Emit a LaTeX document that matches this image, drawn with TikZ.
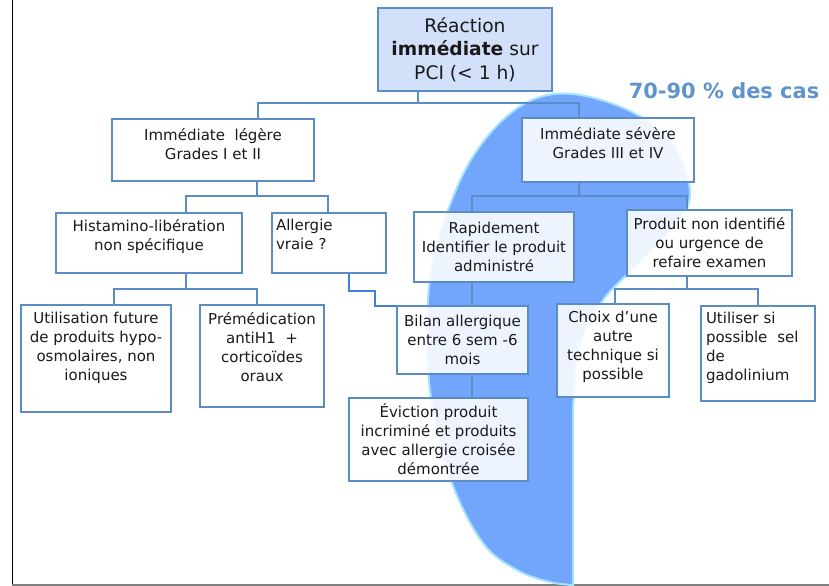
\documentclass[tikz,border=0pt]{standalone}
\usepackage{fontspec}
\setmainfont{DejaVu Sans}
\usepackage{xcolor}
\usepackage{tikz}

\definecolor{boxblue}{HTML}{5B8CC6}
\definecolor{topfill}{HTML}{D3E0F9}
\definecolor{blobfill}{HTML}{72A6FC}
\definecolor{blobedge}{HTML}{A4E2FF}
\definecolor{linkblue}{HTML}{3F7FDD}
\definecolor{casblue}{HTML}{5E93CC}
\definecolor{textgray}{HTML}{1A1A1A}

\newlength{\pxu}\setlength{\pxu}{0.75pt}
\newcommand{\lift}[1]{\rule[-#1\pxu]{0pt}{0pt}}

\begin{document}
\begin{tikzpicture}[x=0.75pt, y=-0.75pt,
  box/.style={draw=boxblue, line width=1.9pt, fill=white, fill opacity=.88, text opacity=1,
    align=center, inner sep=0pt, text=textgray, font=\fontsize{11.25}{14.25}\selectfont},
  sz/.style 2 args={minimum width=#1*0.75pt, minimum height=#2*0.75pt},
  link/.style={draw=boxblue, line width=1.9pt},
  allink/.style={draw=linkblue, line width=1.1pt}]
  \useasboundingbox (0,0) rectangle (829,586);

  % cadre
  \draw[black, line width=1.1pt] (12.5,0) -- (12.5,586);
  \draw[gray, line width=1.1pt] (12,585) -- (829,585);

  % zone 70-90 %
  \filldraw[fill=blobfill, draw=blobedge, line width=1.5pt] (573,585) -- (573,410)
    -- plot[smooth, tension=0.6] coordinates {(573,410) (580,345) (603,300) (640,262) (676,224)
      (690,192) (672,142) (632,112) (580,95) (540,97) (505,118) (472,158) (448,210) (432,265)
      (427,330) (432,405) (452,483) (483,543) (517,570) (550,582) (573,585)} -- cycle;
  \node[font=\fontsize{15.7}{19}\selectfont\bfseries, text=casblue] (cas) at (724,91) {70-90 \% des cas};

  % Réaction
  \node[box, sz={174}{83}, fill=topfill, fill opacity=1, font=\fontsize{14}{17.6}\selectfont] (reac) at (465,49.5)
    {Réaction\\\textbf{immédiate} sur\\PCI (< 1 h)};

  % Branche légère
  \node[box, sz={202}{62}] (legere) at (213,150) {Immédiate\ \ légère\\Grades I et II\lift{11.5}};
  \node[box, sz={186}{60}] (hista) at (149,243) {Histamino-libération\\non spécifique\lift{16.5}};
  \node[box, sz={114}{60}, align=left, text width=79.5pt, inner xsep=3pt] (allerg) at (329,243)
    {Allergie\\vraie ?\lift{16.5}};
  \node[box, sz={150}{107}] (util) at (96,358.5) {Utilisation future\\de produits hypo-\\osmolaires, non\\ioniques\lift{23.5}};
  \node[box, sz={124}{102}] (premed) at (262,356) {Prémédication\\antiH1\ \ +\\corticoïdes\\oraux\lift{18.5}};

  % Branche sévère
  \node[box, sz={172}{64}] (severe) at (608,150) {Immédiate sévère\\Grades III et IV\lift{14.5}};
  \node[box, sz={160}{70}] (rapid) at (494,247) {Rapidement\\Identifier le produit\\administré};
  \node[box, sz={165}{66}] (prodni) at (709.5,243) {Produit non identifié\\ou urgence de\\refaire examen};
  \node[box, sz={131}{68}] (bilan) at (462.5,340) {Bilan allergique\\entre 6 sem -6\\mois};
  \node[box, sz={179}{83}] (evic) at (438.5,439.5) {Éviction produit\\incriminé et produits\\avec allergie croisée\\démontrée};
  \node[box, sz={112}{93}] (choix) at (613,350.5) {Choix d’une\\autre\\technique si\\possible\lift{9.5}};
  \node[box, sz={114}{95}, align=left, text width=78pt, inner xsep=3.75pt] (gado) at (758,353.5)
    {Utiliser si\\possible\ \ sel\\de\\gadolinium\lift{14.5}};

  % Liaisons
  \coordinate (s1) at (418,103); \coordinate (s1l) at (258,103); \coordinate (s1r) at (579,103);
  \draw[link] (reac.south -| s1) -- (s1);
  \draw[link] (legere.north -| s1l) -- (s1l) -- (s1r) -- (severe.north -| s1r);

  \coordinate (s2) at (257,196); \coordinate (s2l) at (186,196); \coordinate (s2r) at (328,196);
  \draw[link] (legere.south -| s2) -- (s2);
  \draw[link] (hista.north -| s2l) -- (s2l) -- (s2r) -- (allerg.north -| s2r);

  \coordinate (s3) at (579,196); \coordinate (s3l) at (472,196); \coordinate (s3r) at (687,196);
  \draw[link] (severe.south -| s3) -- (s3);
  \draw[link] (rapid.north -| s3l) -- (s3l) -- (s3r) -- (prodni.north -| s3r);

  \coordinate (s4) at (186,289); \coordinate (s4l) at (114,289); \coordinate (s4r) at (257,289);
  \draw[link] (hista.south -| s4) -- (s4);
  \draw[link] (util.north -| s4l) -- (s4l) -- (s4r) -- (premed.north -| s4r);

  \coordinate (s5) at (687,289); \coordinate (s5l) at (615,289); \coordinate (s5r) at (758,289);
  \draw[link] (prodni.south -| s5) -- (s5);
  \draw[link] (choix.north -| s5l) -- (s5l) -- (s5r) -- (gado.north -| s5r);

  \coordinate (s6) at (472,294);
  \draw[link] (rapid.south -| s6) -- (bilan.north -| s6);
  \draw[link] (bilan.south -| s6) -- (evic.north -| s6);

  % Allergie vraie -> bilan
  \coordinate (k1) at (349,291); \coordinate (k2) at (375,306);
  \draw[allink] (allerg.south -| k1) -- (k1) -| (k2) -- (k2 -| bilan.west);
\end{tikzpicture}
\end{document}
